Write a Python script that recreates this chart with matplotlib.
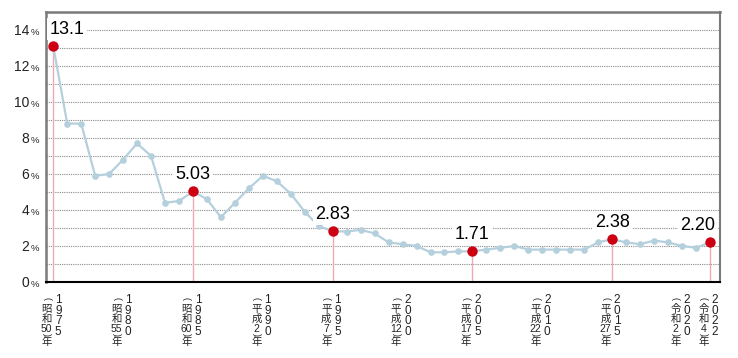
# 完全失業率の推移 (1975-2022) recreate
import matplotlib
matplotlib.use('Agg')
import matplotlib.pyplot as plt

years = list(range(1975, 2023))
rates = [13.1, 8.8, 8.8, 5.9, 6.0, 6.8, 7.7, 7.0, 4.4, 4.5,
         5.03, 4.6, 3.6, 4.4, 5.2, 5.9, 5.6, 4.9, 3.9, 3.1,
         2.83, 2.8, 2.9, 2.7, 2.2, 2.1, 2.0, 1.65, 1.65, 1.7,
         1.71, 1.8, 1.9, 2.0, 1.8, 1.8, 1.8, 1.8, 1.8, 2.2,
         2.38, 2.2, 2.1, 2.3, 2.2, 2.0, 1.9, 2.20]

highlight_years = [1975, 1985, 1995, 2005, 2015, 2022]
highlight_labels = ["13.1", "5.03", "2.83", "1.71", "2.38", "2.20"]

tick_years = [1975, 1980, 1985, 1990, 1995, 2000, 2005, 2010, 2015, 2020, 2022]
tick_eras = ["昭和50", "昭和55", "昭和60", "平成2", "平成7", "平成12",
             "平成17", "平成22", "平成27", "令和2", "令和4"]

ytick_values = [0, 2, 4, 6, 8, 10, 12, 14]

plt.rcParams['font.family'] = ['Liberation Sans', 'Noto Sans CJK JP']

fig = plt.figure(figsize=(7.38, 3.58), dpi=100)
W, H = 738, 358
ax = fig.add_axes([46 / W, (H - 282) / H, (720 - 46) / W, (282 - 12) / H])
ax.set_xlim(1974.48, 2022.72)
ax.set_ylim(0, 15)

# dotted grid every 1%
ax.set_yticks(range(0, 16))
ax.set_xticks([])
ax.tick_params(axis='y', length=0, labelleft=False)
ax.grid(axis='y', linestyle=(0, (1, 1)), color='#8a8a8a', linewidth=0.8)
ax.set_axisbelow(True)

for side in ['left', 'top', 'right']:
    ax.spines[side].set_color('#7a7a7a')
    ax.spines[side].set_linewidth(1.8)
ax.spines['right'].set_linewidth(1.5)
ax.spines['bottom'].set_color('black')
ax.spines['bottom'].set_linewidth(1.5)
ax.spines['bottom'].set_zorder(5)

hl_vals = [rates[years.index(y)] for y in highlight_years]

# pink drop lines
ax.vlines(highlight_years, 0, hl_vals, color='#f0aab4', linewidth=1, zorder=2)

ax.plot(years, rates, color='#b5d0dd', linewidth=1.6, marker='o',
        markersize=4.8, markerfacecolor='#b5d0dd', markeredgewidth=0, zorder=3)
ax.plot(highlight_years, hl_vals, linestyle='none', marker='o', markersize=7.5,
        markerfacecolor='#cc0011', markeredgewidth=0, zorder=4)

# value labels
for yr, v, lab in zip(highlight_years, hl_vals, highlight_labels):
    ha, dx = 'center', 0
    if yr == highlight_years[0]:
        ha, dx = 'left', -4
    elif yr == highlight_years[-1]:
        dx = -12
    ax.annotate(lab, xy=(yr, v), xytext=(dx, 17), textcoords='offset pixels',
                ha=ha, va='center', fontsize=13, color='black', zorder=6,
                bbox=dict(boxstyle='square,pad=0.15', facecolor='white', edgecolor='none'),
                annotation_clip=False)

# y tick labels: number + small %
for v in ytick_values:
    ax.annotate(str(v), xy=(0, v), xycoords=('axes fraction', 'data'),
                xytext=(-16.5, -4.8), textcoords='offset pixels',
                ha='right', va='baseline', fontsize=10, color='#222222',
                annotation_clip=False)
    ax.annotate('%', xy=(0, v), xycoords=('axes fraction', 'data'),
                xytext=(-15.5, -4.8), textcoords='offset pixels',
                ha='left', va='baseline', fontsize=6.8, color='#222222',
                annotation_clip=False)


def put(s, x, dx, dy, size, rot=0, va='center'):
    ax.annotate(s, xy=(x, 0), xytext=(dx, dy), textcoords='offset pixels',
                ha='center', va=va, multialignment='center', fontsize=size,
                linespacing=1.0, color='#222222', rotation=rot,
                rotation_mode='anchor', annotation_clip=False)


# vertical x labels: western year on the right, era year on the left
for yr, era in zip(tick_years, tick_eras):
    ax.annotate("\n".join(str(yr)), xy=(yr, 0), xytext=(5, -11.8),
                textcoords='offset pixels', ha='center', va='top',
                multialignment='center', fontsize=8.5, linespacing=0.87,
                color='#222222', annotation_clip=False)
    put('(', yr, -6.5, -16.5, 6.5, rot=-90)
    ax.annotate("\n".join([era[0], era[1], era[2:]]), xy=(yr, 0), xytext=(-6.5, -36.8),
                textcoords='offset pixels', ha='center', va='center',
                multialignment='center', fontsize=7.5, linespacing=1.0,
                color='#222222', annotation_clip=False)
    put(')', yr, -6.5, -52.5, 6.5, rot=-90)
    put('年', yr, -6.5, -60, 7.5)

fig.savefig('out.png', dpi=100)
